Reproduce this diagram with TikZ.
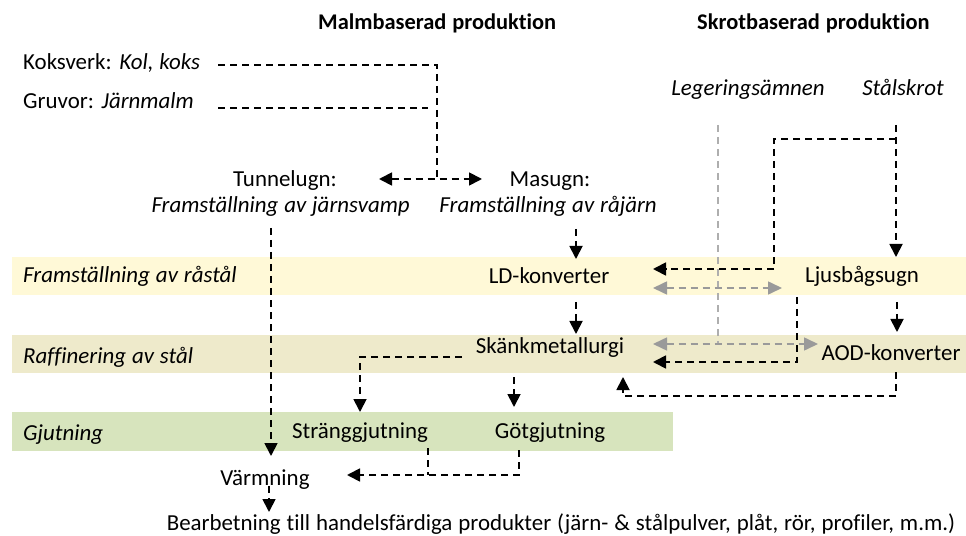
\documentclass[tikz,border=0pt]{standalone}
\usepackage{fontspec}
\setmainfont{Carlito}[Ligatures={NoCommon}, WordSpace=1.15]
\usetikzlibrary{arrows.meta}
\definecolor{bandA}{HTML}{FFF9D7}
\definecolor{bandB}{HTML}{EEEACB}
\definecolor{bandC}{HTML}{D7E4BD}
\definecolor{alloy}{HTML}{9A9A9A}
\tikzset{
  txt/.style={inner sep=0pt, anchor=base, font=\fontsize{23}{26}\selectfont},
  txtl/.style={txt, anchor=base west},
  hdr/.style={txtl, font=\fontsize{22.5}{26}\selectfont\bfseries},
  link/.style={line width=1.8bp, dash pattern=on 7bp off 5bp},
  arr/.style={link, -{Triangle[length=13bp,width=13bp]}},
  darr/.style={link, {Triangle[length=13bp,width=13bp]}-{Triangle[length=13bp,width=13bp]}},
  glink/.style={alloy!80, line width=1.3bp, dash pattern=on 7bp off 5bp},
  gdarr/.style={alloy, line width=1.6bp, dash pattern=on 7bp off 5bp,
    {Triangle[length=14bp,width=13bp]}-{Triangle[length=14bp,width=13bp]}},
}
\begin{document}
\begin{tikzpicture}[x=1bp,y=-1bp]
\useasboundingbox (0,0) rectangle (966,536);

% process bands
\fill[bandA] (12,257) rectangle (966,295);
\fill[bandB] (12,335) rectangle (966,373);
\fill[bandC] (12,412) rectangle (673,451);

% headings
\node[hdr] (hMalm) at (318,30) {Malmbaserad produktion};
\node[hdr] (hSkrot) at (697,30) {Skrotbaserad produktion};

% raw materials
\node[txtl] (koks) at (23,70) {Koksverk: \textit{Kol, koks}};
\node[txtl] (gruv) at (23,109) {Gruvor: \textit{Järnmalm}};
\node[txt] (leg) at (748,96) {\textit{Legeringsämnen}};
\node[txt] (skrot) at (903,96) {\textit{Stålskrot}};

% iron making
\node[txt] (tunnel) at (285,187) {Tunnelugn:};
\node[txt, anchor=base east] (tunnelSub) at (410,213) {\textit{Framställning av järnsvamp}};
\node[txt] (masugn) at (550,187) {Masugn:};
\node[txt, anchor=base east] (masugnSub) at (657,213) {\textit{Framställning av råjärn}};

% band labels
\node[txtl] (lRa) at (23,283) {\textit{Framställning av råstål}};
\node[txtl] (lRaff) at (23,364) {\textit{Raffinering av stål}};
\node[txtl] (lGjut) at (23,440) {\textit{Gjutning}};

% steel making
\node[txt] (ld) at (549,284) {LD-konverter};
\node[txt] (ljus) at (862,283) {Ljusbågsugn};
\node[txt] (skank) at (550,354) {Skänkmetallurgi};
\node[txt] (aod) at (891,361) {AOD-konverter};
\node[txt] (strang) at (360,438) {Stränggjutning};
\node[txt] (got) at (550,438) {Götgjutning};
\node[txt] (varm) at (265,485) {Värmning};
\node[txt] (bearb) at (561,530) {Bearbetning till handelsfärdiga produkter (järn- \& stålpulver, plåt, rör, profiler, m.m.)};

% junction and end points
\coordinate (kEnd) at (218,65);
\coordinate (gEnd) at (218,108);
\coordinate (gStop) at (428,108);
\coordinate (kBend) at (437,65);
\coordinate (ovn) at (437,179);
\coordinate (tunIn) at (379,179);
\coordinate (masIn) at (482,179);
\coordinate (tunOut) at (271,228);
\coordinate (varmIn) at (271,456);
\coordinate (masOut) at (576,229);
\coordinate (ldIn) at (576,259);
\coordinate (skrTop) at (896,125);
\coordinate (skrBr) at (896,139);
\coordinate (skrBend) at (774,139);
\coordinate (skrDown) at (774,269);
\coordinate (ldR) at (653,269);
\coordinate (ljusIn) at (896,257);
\coordinate (legTop) at (718,125);
\coordinate (legBot) at (718,343);
\coordinate (ldR2) at (653,288);
\coordinate (ljusL) at (782,288);
\coordinate (skR) at (653,344);
\coordinate (aodL) at (818,344);
\coordinate (ldOut) at (576,302);
\coordinate (skIn) at (576,334);
\coordinate (ljOut) at (897,302);
\coordinate (aodIn) at (897,332);
\coordinate (ljOut2) at (797,297);
\coordinate (ljBend) at (797,362);
\coordinate (skR2) at (653,362);
\coordinate (aodOut) at (896,372);
\coordinate (aodBend) at (896,396);
\coordinate (skBend) at (623,396);
\coordinate (skBot) at (623,377);
\coordinate (skL) at (462,357);
\coordinate (skLBend) at (360,357);
\coordinate (strIn) at (360,412);
\coordinate (skOut) at (514,377);
\coordinate (gotIn) at (514,407);
\coordinate (strOut) at (428,448);
\coordinate (strJoin) at (428,475);
\coordinate (gotOut) at (519,450);
\coordinate (gotBend) at (519,475);
\coordinate (varmR) at (347,475);
\coordinate (varmOut) at (269,486);
\coordinate (bearbIn) at (269,512);

% alloying additions (grey)
\draw[glink] (legTop) -- (legBot);
\draw[gdarr] (ldR2) -- (ljusL);
\draw[gdarr] (skR) -- (aodL);

% ore based route
\draw[link] (kEnd) -- (kBend) -- (ovn);
\draw[link] (gEnd) -- (gStop);
\draw[darr] (tunIn) -- (masIn);
\draw[arr] (tunOut) -- (varmIn);
\draw[arr] (masOut) -- (ldIn);
\draw[arr] (ldOut) -- (skIn);

% scrap based route
\draw[arr] (skrTop) -- (ljusIn);
\draw[arr] (skrBr) -- (skrBend) -- (skrDown) -- (ldR);
\draw[arr] (ljOut) -- (aodIn);
\draw[arr] (ljOut2) -- (ljBend) -- (skR2);
\draw[arr] (aodOut) -- (aodBend) -- (skBend) -- (skBot);

% casting and further processing
\draw[arr] (skL) -- (skLBend) -- (strIn);
\draw[arr] (skOut) -- (gotIn);
\draw[link] (strOut) -- (strJoin);
\draw[arr] (gotOut) -- (gotBend) -- (varmR);
\draw[arr] (varmOut) -- (bearbIn);
\end{tikzpicture}
\end{document}
